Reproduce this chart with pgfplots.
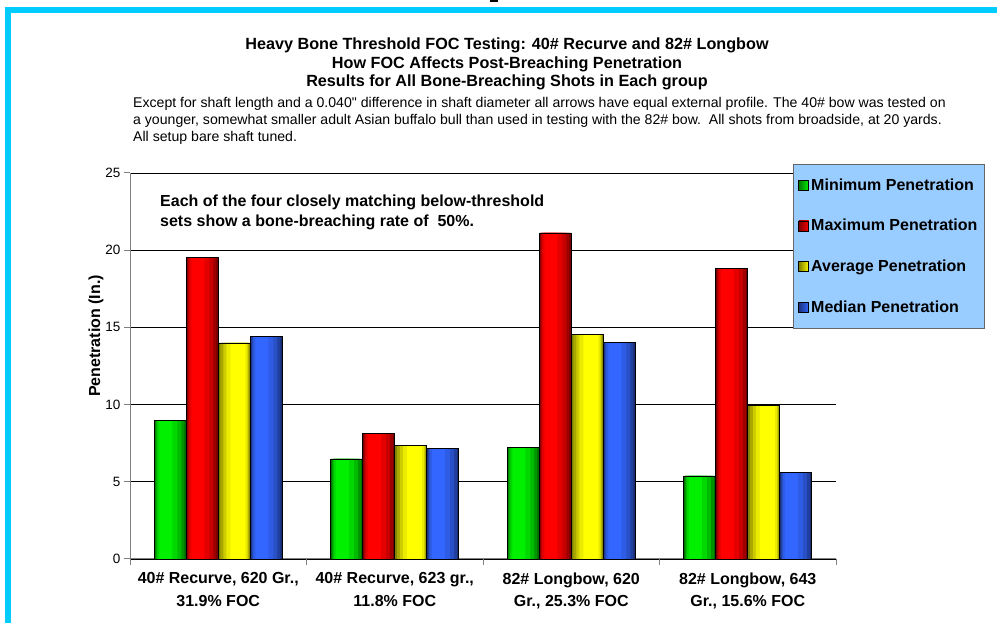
\documentclass[border=0pt]{standalone}
\usepackage{fontspec}
\setmainfont{Liberation Sans}
\newfontfamily\plainfont{Liberation Sans}
\usepackage{pgfplots}
\usepackage{pgfplotstable}
\pgfplotsset{compat=1.18}

\definecolor{frame}{HTML}{00CCFF}
\definecolor{gmin}{HTML}{00F000}
\definecolor{rmax}{HTML}{FF0000}
\definecolor{yavg}{HTML}{FFFF00}
\definecolor{bmed}{HTML}{3366FF}
\definecolor{legfill}{HTML}{99CCFF}

% penetration (in.) per group: min, max, average, median
\pgfplotstableread{
g  min   max    avg    med
0  9.00  19.54  13.99  14.44
1  6.48  8.13   7.38   7.17
2  7.25  21.12  14.52  14.01
3  5.38  18.80  9.93   5.60
}\pendata

% bars built from stacked layers to fake the Excel gradient
\newcommand{\gradbars}[3]{%
  \addplot[forget plot, draw=none, fill=#3!45!black, bar width=32pt, bar shift={#2pt}] table[x=g,y=#1]{\pendata};
  \addplot[forget plot, draw=none, fill=#3!62!black, bar width=29pt, bar shift={#2pt-0.5pt}] table[x=g,y=#1]{\pendata};
  \addplot[forget plot, draw=none, fill=#3!78!black, bar width=25pt, bar shift={#2pt-1.5pt}] table[x=g,y=#1]{\pendata};
  \addplot[forget plot, draw=none, fill=#3!90!black, bar width=20pt, bar shift={#2pt-3pt}] table[x=g,y=#1]{\pendata};
  \addplot[forget plot, draw=none, fill=#3, bar width=13pt, bar shift={#2pt-4.5pt}] table[x=g,y=#1]{\pendata};
  \addplot[forget plot, draw=black, line width=0.8pt, fill=none, bar width=32pt, bar shift={#2pt}] table[x=g,y=#1]{\pendata};
}
\newcommand{\gradbarsY}[3]{%
  \addplot[forget plot, draw=none, fill=#3!50!black, bar width=32pt, bar shift={#2pt}] table[x=g,y=#1]{\pendata};
  \addplot[forget plot, draw=none, fill=#3!66!black, bar width=29pt, bar shift={#2pt+0.5pt}] table[x=g,y=#1]{\pendata};
  \addplot[forget plot, draw=none, fill=#3!80!black, bar width=25pt, bar shift={#2pt+1.5pt}] table[x=g,y=#1]{\pendata};
  \addplot[forget plot, draw=none, fill=#3!92!black, bar width=21pt, bar shift={#2pt+2.5pt}] table[x=g,y=#1]{\pendata};
  \addplot[forget plot, draw=none, fill=#3, bar width=15pt, bar shift={#2pt+3.5pt}] table[x=g,y=#1]{\pendata};
  \addplot[forget plot, draw=black, line width=0.8pt, fill=none, bar width=32pt, bar shift={#2pt}] table[x=g,y=#1]{\pendata};
}

\pgfplotsset{sqlegend/.style={legend image code/.code={\draw[##1, line width=0.8pt] (0pt,-5pt) rectangle (10pt,5pt);}}}

\begin{document}
\begin{tikzpicture}
\useasboundingbox (0,0) rectangle (997pt,623pt);
% frame
\fill[frame] (5pt,610pt) rectangle (997pt,616pt);
\fill[frame] (5pt,0pt) rectangle (11pt,616pt);
\fill[black] (490pt,621pt) rectangle (498pt,623pt);

% titles
\begin{scope}[every node/.style={anchor=base, inner sep=0pt, font=\bfseries\fontsize{16.2}{18}\selectfont}]
\node at (507pt,573pt) {Heavy Bone Threshold FOC Testing: 40\# Recurve and 82\# Longbow};
\node at (507pt,554.5pt) {How FOC Affects Post-Breaching Penetration};
\node at (507pt,536pt) {Results for All Bone-Breaching Shots in Each group};
\end{scope}
\begin{scope}[every node/.style={anchor=base west, inner sep=0pt, font=\fontsize{14.1}{16}\selectfont}]
\node at (133pt,515pt) {Except for shaft length and a 0.040{\plainfont"} difference in shaft diameter all arrows have equal external profile. The 40\# bow was tested on};
\node at (133pt,498pt) {a younger, somewhat smaller adult Asian buffalo bull than used in testing with the 82\# bow.\ \ All shots from broadside, at 20 yards.};
\node at (133pt,481pt) {All setup bare shaft tuned.};
\end{scope}

\begin{axis}[
  at={(130pt,64pt)}, anchor=south west,
  scale only axis, width=706pt, height=386pt,
  xmin=-0.5, xmax=3.5, ymin=0, ymax=25,
  ytick={0,5,...,25},
  xtick={0,1,2,3},
  xticklabels={{40\# Recurve, 620 Gr.,\\31.9\% FOC},
               {40\# Recurve, 623 gr.,\\11.8\% FOC},
               {82\# Longbow, 620\\Gr., 25.3\% FOC},
               {82\# Longbow, 643\\Gr., 15.6\% FOC}},
  minor xtick={-0.5,0.5,1.5,2.5,3.5},
  axis x line*=bottom, axis y line*=left,
  axis line style={draw=black!50, line width=1pt, -},
  ymajorgrids, grid style={black, line width=0.6pt},
  tick style={black!50, line width=1pt},
  major x tick style={draw=none},
  tick align=outside,
  major tick length=6pt, minor tick length=6pt,
  /pgf/number format/assume math mode=true,
  yticklabel style={font=\fontsize{13.5}{16}\selectfont},
  xticklabel style={align=center, yshift=-4pt, font=\bfseries\fontsize{16}{22.5}\selectfont},
  ybar=0pt,
  legend cell align=left,
  legend style={at={(0.939,1.0233)}, anchor=north west, fill=legfill,
    draw=black!60, line width=1pt, row sep=23.8pt, inner xsep=5pt, inner ysep=12pt,
    font=\bfseries\fontsize{16}{19}\selectfont},
  sqlegend,
]
\gradbars{min}{-48}{gmin}
\gradbars{max}{-16}{rmax}
\gradbarsY{avg}{16}{yavg}
\gradbars{med}{48}{bmed}

\addlegendimage{sqlegend, draw=black, left color=gmin!50!black, middle color=gmin, right color=gmin}
\addlegendentry{Minimum Penetration}
\addlegendimage{sqlegend, draw=black, left color=rmax!50!black, middle color=rmax, right color=rmax}
\addlegendentry{Maximum Penetration}
\addlegendimage{sqlegend, draw=black, left color=yavg!50!black, middle color=yavg, right color=yavg}
\addlegendentry{Average Penetration}
\addlegendimage{sqlegend, draw=black, left color=bmed!50!black, middle color=bmed, right color=bmed}
\addlegendentry{Median Penetration}
\end{axis}

% annotation and y label
\begin{scope}[every node/.style={anchor=base west, inner sep=0pt, font=\bfseries\fontsize{16}{20}\selectfont}]
\node at (160pt,416.3pt) {Each of the four closely matching below-threshold};
\node at (160pt,396.3pt) {sets show a bone-breaching rate of\ \ 50\%.};
\end{scope}
\node[rotate=90, inner sep=0pt, font=\bfseries\fontsize{16}{19}\selectfont] at (96pt,287pt) {Penetration (In.)};
\end{tikzpicture}
\end{document}
